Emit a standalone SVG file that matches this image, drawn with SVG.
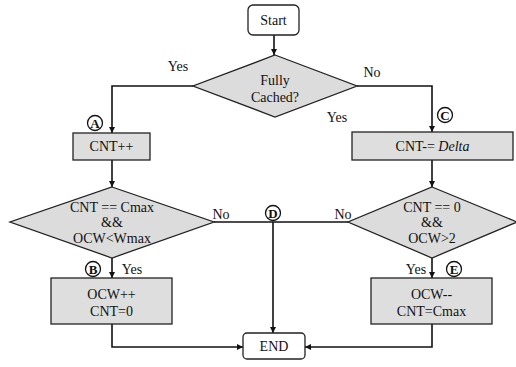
<svg xmlns="http://www.w3.org/2000/svg" width="516" height="367" viewBox="0 0 516 367">
<defs>
<marker id="ah" viewBox="0 0 10 10" refX="10" refY="5" markerWidth="6" markerHeight="6" markerUnits="userSpaceOnUse" orient="auto">
<path d="M0,0 L10,5 L0,10 z" fill="#111"/>
</marker>
</defs>
<g id="connectors" fill="none" stroke="#111" stroke-width="1.6">
<path d="M274,35 V55" marker-end="url(#ah)"/>
<path d="M193,86 H112 V133" marker-end="url(#ah)"/>
<path d="M357,86 H432 V132" marker-end="url(#ah)"/>
<path d="M112,160 V187" marker-end="url(#ah)"/>
<path d="M432,160 V187" marker-end="url(#ah)"/>
<path d="M214,222 H348"/>
<path d="M273,222 V333" marker-end="url(#ah)"/>
<path d="M112,258 V278" marker-end="url(#ah)"/>
<path d="M432,258 V278" marker-end="url(#ah)"/>
<path d="M112,324 V347 H243" marker-end="url(#ah)"/>
<path d="M432,324 V347 H305" marker-end="url(#ah)"/>
</g>
<g id="connector-labels" fill="#111" stroke="none" text-anchor="middle">
<text font-family="Liberation Serif" font-size="14" x="178" y="71">Yes</text>
<text font-family="Liberation Serif" font-size="14" x="372" y="77">No</text>
<text font-family="Liberation Serif" font-size="14" x="337" y="122">Yes</text>
<text font-family="Liberation Serif" font-size="14" x="221" y="219">No</text>
<text font-family="Liberation Serif" font-size="14" x="343" y="219">No</text>
<text font-family="Liberation Serif" font-size="14" x="132" y="274">Yes</text>
<text font-family="Liberation Serif" font-size="14" x="416" y="274">Yes</text>
</g>
<g id="start" text-anchor="middle">
<rect x="248" y="5" width="51" height="30" rx="5" fill="#fff" stroke="#222" stroke-width="1.3"/>
<text font-family="Liberation Serif" font-size="14" fill="#111" x="273.5" y="25">Start</text>
</g>
<g id="fully-cached" text-anchor="middle">
<polygon points="275,55 357,86 275,117 193,86" fill="#dcdcdc" stroke="#222" stroke-width="1.3"/>
<text font-family="Liberation Serif" font-size="14" fill="#111" x="275" y="85">Fully</text>
<text font-family="Liberation Serif" font-size="14" fill="#111" x="275" y="102">Cached?</text>
</g>
<g id="cnt-inc" text-anchor="middle">
<rect x="73" y="133" width="77" height="27" fill="#dedede" stroke="#222" stroke-width="1.3"/>
<text font-family="Liberation Serif" font-size="14" fill="#111" x="111.5" y="151">CNT++</text>
</g>
<g id="cnt-delta" text-anchor="middle">
<rect x="352" y="132" width="161" height="28" fill="#dedede" stroke="#222" stroke-width="1.3"/>
<text font-family="Liberation Serif" font-size="14" fill="#111" x="432.5" y="151">CNT-= <tspan font-style="italic">Delta</tspan></text>
</g>
<g id="cond-left" text-anchor="middle">
<polygon points="112,187 214,222 112,258 10,222" fill="#dcdcdc" stroke="#222" stroke-width="1.3"/>
<text font-family="Liberation Serif" font-size="14" fill="#111" x="112" y="212">CNT == Cmax</text>
<text font-family="Liberation Serif" font-size="14" fill="#111" x="112" y="227">&amp;&amp;</text>
<text font-family="Liberation Serif" font-size="14" fill="#111" x="112" y="243">OCW&lt;Wmax</text>
</g>
<g id="cond-right" text-anchor="middle">
<polygon points="432,187 517,222 432,258 348,222" fill="#dcdcdc" stroke="#222" stroke-width="1.3"/>
<text font-family="Liberation Serif" font-size="14" fill="#111" x="432" y="212">CNT == 0</text>
<text font-family="Liberation Serif" font-size="14" fill="#111" x="432" y="227">&amp;&amp;</text>
<text font-family="Liberation Serif" font-size="14" fill="#111" x="432" y="243">OCW&gt;2</text>
</g>
<g id="ocw-inc" text-anchor="middle">
<rect x="51" y="278" width="121" height="46" fill="#dedede" stroke="#222" stroke-width="1.3"/>
<text font-family="Liberation Serif" font-size="14" fill="#111" x="111.5" y="299">OCW++</text>
<text font-family="Liberation Serif" font-size="14" fill="#111" x="111.5" y="316">CNT=0</text>
</g>
<g id="ocw-dec" text-anchor="middle">
<rect x="371" y="278" width="121" height="46" fill="#dedede" stroke="#222" stroke-width="1.3"/>
<text font-family="Liberation Serif" font-size="14" fill="#111" x="431.5" y="299">OCW--</text>
<text font-family="Liberation Serif" font-size="14" fill="#111" x="431.5" y="316">CNT=Cmax</text>
</g>
<g id="end" text-anchor="middle">
<rect x="243" y="333" width="62" height="26" rx="4" fill="#fff" stroke="#222" stroke-width="1.3"/>
<text font-family="Liberation Serif" font-size="14" fill="#111" x="274" y="351">END</text>
</g>
<g id="label-a" text-anchor="middle"><circle cx="95" cy="123" r="7.5" fill="#fff" stroke="#111" stroke-width="1.3"/><text font-family="Liberation Serif" font-size="13" font-weight="bold" fill="#111" x="95" y="127.5">A</text></g>
<g id="label-b" text-anchor="middle"><circle cx="93" cy="269" r="7.5" fill="#fff" stroke="#111" stroke-width="1.3"/><text font-family="Liberation Serif" font-size="13" font-weight="bold" fill="#111" x="93" y="273.5">B</text></g>
<g id="label-c" text-anchor="middle"><circle cx="445" cy="115" r="7.5" fill="#fff" stroke="#111" stroke-width="1.3"/><text font-family="Liberation Serif" font-size="13" font-weight="bold" fill="#111" x="445" y="119.5">C</text></g>
<g id="label-d" text-anchor="middle"><circle cx="273" cy="213" r="7.5" fill="#fff" stroke="#111" stroke-width="1.3"/><text font-family="Liberation Serif" font-size="13" font-weight="bold" fill="#111" x="273" y="217.5">D</text></g>
<g id="label-e" text-anchor="middle"><circle cx="454" cy="269" r="7.5" fill="#fff" stroke="#111" stroke-width="1.3"/><text font-family="Liberation Serif" font-size="13" font-weight="bold" fill="#111" x="454" y="273.5">E</text></g>
</svg>
